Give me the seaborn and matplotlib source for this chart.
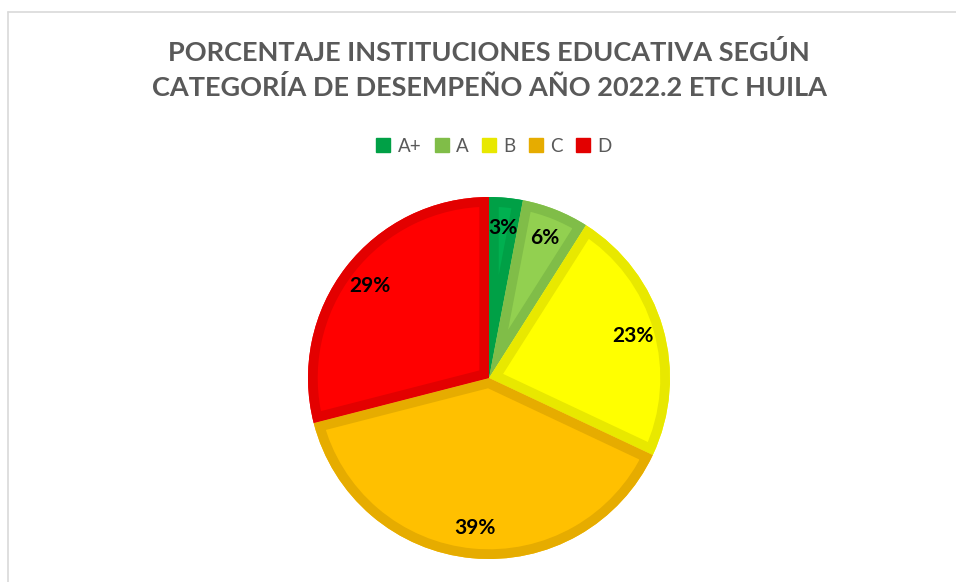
import matplotlib.pyplot as plt
import seaborn as sns
from matplotlib.patches import Patch, PathPatch
from matplotlib.lines import Line2D

# Data
categorias = ["A+", "A", "B", "C", "D"]
porcentajes = [3, 6, 23, 39, 29]
colores_relleno = ["#00B050", "#92D050", "#FFFF00", "#FFC000", "#FF0000"]
colores_borde = ["#00A046", "#80BD48", "#E8E800", "#E6AC00", "#E30000"]
titulo = "PORCENTAJE INSTITUCIONES EDUCATIVA SEGÚN\nCATEGORÍA DE DESEMPEÑO AÑO 2022.2 ETC HUILA"

sns.set_theme(style="white")
plt.rcParams['font.family'] = ['Lato', 'DejaVu Sans']

W, H = 956, 582
fig = plt.figure(figsize=(W / 100, H / 100), dpi=100)

# pie area: centre (489, 378), radius 181 px
cx, cy, r = 489, 378, 181
ax = fig.add_axes([(cx - r) / W, (H - cy - r) / H, 2 * r / W, 2 * r / H])

wedges, texts, autotexts = ax.pie(
    porcentajes,
    colors=sns.color_palette(colores_relleno),
    startangle=90,
    counterclock=False,
    autopct=lambda p: f"{p:.0f}%",
    pctdistance=0.83,
    wedgeprops=dict(linewidth=0),
    textprops=dict(fontsize=15, fontweight="bold", color="black"),
)
ax.set_xlim(-1, 1)
ax.set_ylim(-1, 1)
ax.set_aspect("equal")
ax.axis("off")

# inner stroke like the original: darker edge clipped to each slice
for w, ec in zip(wedges, colores_borde):
    borde = PathPatch(w.get_path(), facecolor="none", edgecolor=ec,
                      linewidth=14, joinstyle="miter", zorder=w.get_zorder() + 0.1)
    ax.add_patch(borde)
    borde.set_clip_on(True)
    borde.set_clip_path(w.get_path(), ax.transData)
for t in autotexts:
    t.set_zorder(5)

# title
fig.text(cx / W, 1 - 70 / H, titulo, ha="center", va="center",
         fontsize=19.5, fontweight="bold", color="#595959", linespacing=1.45)

# legend
handles = [Patch(facecolor=c, edgecolor=c) for c in colores_borde]
fig.legend(handles, categorias, loc="center", bbox_to_anchor=(494 / W, 1 - 146 / H),
           ncol=5, frameon=False, fontsize=13.5, handlelength=0.75, handleheight=0.75,
           handletextpad=0.4, columnspacing=0.7, labelcolor="#595959")

# chart border
fig.add_artist(Line2D([8 / W, 1], [1 - 12 / H, 1 - 12 / H], color="#D9D9D9", lw=1.2))
fig.add_artist(Line2D([8 / W, 8 / W], [0, 1 - 12 / H], color="#D9D9D9", lw=1.2))

fig.savefig("out.png", dpi=100, facecolor="white")
